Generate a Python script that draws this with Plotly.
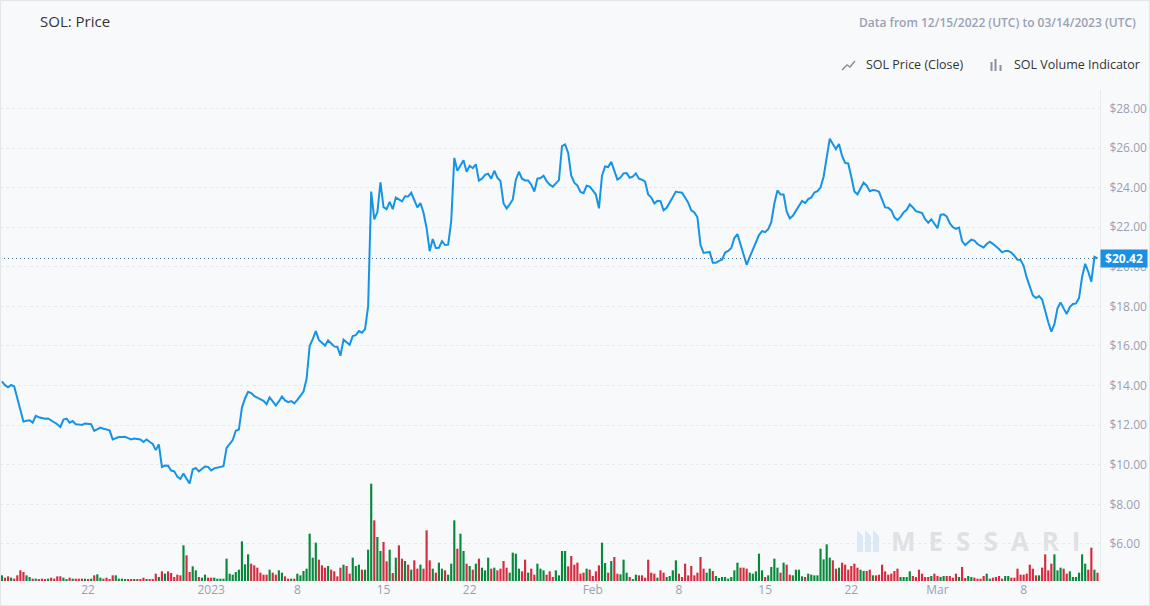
import pandas as pd
import plotly.graph_objects as go

# ---------------- data (6-hour candles, 12/15/2022 -> 03/14/2023 UTC) ----------------
start_time = "2022-12-15 00:00"
price_close = [
    14.21, 14.02, 13.91, 14.03, 13.96, 13.35, 12.65, 12.18, 12.22, 12.25,
    12.13, 12.47, 12.40, 12.35, 12.33, 12.34, 12.25, 12.18, 12.05, 11.91,
    12.28, 12.33, 12.13, 12.21, 12.05, 12.04, 12.01, 12.08, 12.05, 12.05,
    11.71, 11.80, 11.88, 11.82, 11.77, 11.74, 11.28, 11.35, 11.40, 11.40,
    11.41, 11.35, 11.28, 11.33, 11.31, 11.28, 11.15, 11.28, 11.16, 11.05,
    10.74, 11.03, 9.89, 9.96, 9.95, 9.71, 9.67, 9.40, 9.28, 9.56,
    9.30, 9.05, 9.76, 9.84, 9.67, 9.80, 9.91, 9.89, 9.71, 9.82,
    9.86, 9.90, 9.93, 10.85, 11.05, 11.25, 11.72, 11.78, 12.89, 13.35,
    13.69, 13.62, 13.47, 13.38, 13.31, 13.23, 13.06, 13.40, 13.20, 12.99,
    13.20, 13.45, 13.25, 13.16, 13.22, 13.10, 13.28, 13.48, 13.70, 14.33,
    16.00, 16.35, 16.75, 16.30, 16.15, 16.02, 16.28, 16.15, 15.98, 15.95,
    15.51, 16.32, 16.20, 16.06, 16.50, 16.55, 16.75, 16.67, 16.85, 18.00,
    23.80, 22.40, 22.75, 24.26, 23.01, 22.91, 23.28, 22.91, 23.50, 23.42,
    23.30, 23.56, 23.55, 23.74, 23.40, 23.00, 23.22, 22.73, 21.95, 20.79,
    21.40, 20.95, 20.96, 21.30, 21.10, 21.12, 22.30, 25.50, 24.85, 25.15,
    25.38, 24.80, 25.10, 24.98, 25.18, 24.35, 24.45, 24.64, 24.70, 24.45,
    24.85, 24.50, 24.33, 23.20, 22.95, 23.15, 23.40, 24.40, 24.80, 24.45,
    24.36, 24.36, 24.15, 23.80, 24.45, 24.48, 24.60, 24.33, 24.15, 24.05,
    24.20, 24.38, 26.10, 26.18, 25.75, 24.60, 24.25, 24.10, 23.78, 23.72,
    24.10, 24.05, 23.86, 23.65, 22.95, 24.60, 25.07, 25.04, 25.30, 24.80,
    24.40, 24.51, 24.72, 24.73, 24.50, 24.55, 24.72, 24.45, 24.40, 24.30,
    23.65, 23.50, 23.20, 23.33, 23.31, 22.85, 22.98, 23.25, 23.55, 23.80,
    23.76, 23.74, 23.50, 23.24, 22.85, 22.74, 22.50, 21.10, 20.70, 20.72,
    20.75, 20.20, 20.20, 20.30, 20.36, 20.72, 20.80, 20.95, 21.45, 21.65,
    21.15, 20.65, 20.10, 20.50, 20.88, 21.20, 21.60, 21.80, 21.75, 21.90,
    22.25, 23.20, 23.86, 23.65, 23.65, 22.80, 22.45, 22.58, 22.82, 23.12,
    23.33, 23.22, 23.42, 23.50, 23.75, 23.82, 24.00, 24.55, 25.60, 26.47,
    26.20, 25.95, 26.20, 25.60, 25.25, 25.22, 24.55, 23.80, 23.66, 23.95,
    24.25, 24.10, 23.82, 23.88, 23.86, 23.79, 23.35, 23.00, 22.98, 22.85,
    22.50, 22.36, 22.52, 22.75, 22.88, 23.15, 23.00, 22.81, 22.77, 22.72,
    22.40, 22.23, 22.40, 22.20, 21.95, 22.62, 22.65, 22.54, 22.20, 22.00,
    21.92, 21.98, 21.30, 21.10, 21.22, 21.37, 21.32, 21.15, 21.06, 20.98,
    21.15, 21.27, 21.16, 21.05, 20.90, 20.73, 20.80, 20.80, 20.72, 20.55,
    20.36, 20.35, 20.05, 19.45, 19.00, 18.55, 18.42, 18.52, 18.35, 17.70,
    17.20, 16.72, 17.10, 17.90, 18.20, 17.90, 17.62, 17.97, 18.12, 18.15,
    18.42, 19.50, 20.15, 19.75, 19.25, 20.50, 20.42,
]
# volume per 6h candle, million USD (estimated)
volume_musd = [
    85, 50, 70, 50, 35, 85, 160, 135, 85, 60,
    35, 35, 20, 35, 20, 35, 50, 35, 70, 70,
    50, 20, 50, 35, 35, 35, 35, 35, 20, 35,
    85, 100, 50, 35, 50, 20, 85, 85, 35, 35,
    20, 20, 20, 20, 20, 20, 50, 20, 20, 20,
    110, 60, 145, 110, 145, 120, 60, 95, 85, 535,
    385, 135, 220, 160, 60, 50, 95, 50, 50, 50,
    35, 35, 35, 335, 110, 95, 135, 170, 595, 250,
    400, 260, 235, 200, 125, 95, 95, 170, 125, 95,
    160, 125, 70, 35, 35, 35, 110, 85, 150, 185,
    710, 350, 575, 320, 235, 200, 225, 170, 145, 70,
    200, 245, 225, 110, 350, 225, 245, 170, 170, 470,
    1460, 910, 660, 450, 585, 295, 470, 120, 350, 535,
    335, 300, 245, 170, 310, 185, 245, 185, 760, 310,
    185, 125, 275, 185, 160, 95, 260, 910, 485, 710,
    450, 260, 225, 170, 260, 335, 200, 160, 350, 185,
    200, 160, 185, 300, 200, 125, 425, 410, 185, 145,
    320, 125, 185, 95, 260, 185, 160, 95, 145, 60,
    160, 85, 450, 450, 220, 375, 245, 275, 110, 125,
    185, 170, 75, 145, 235, 575, 270, 125, 300, 360,
    110, 100, 320, 125, 60, 25, 95, 85, 85, 50,
    320, 125, 110, 50, 160, 125, 60, 75, 160, 310,
    110, 60, 260, 85, 225, 85, 125, 360, 185, 125,
    185, 150, 75, 45, 60, 60, 35, 60, 160, 275,
    200, 200, 185, 125, 110, 145, 410, 160, 60, 85,
    210, 335, 200, 125, 275, 245, 95, 85, 170, 170,
    70, 60, 110, 95, 85, 85, 485, 325, 550, 350,
    310, 185, 200, 275, 245, 170, 225, 260, 200, 170,
    150, 150, 170, 85, 85, 95, 245, 145, 95, 110,
    150, 185, 60, 60, 60, 145, 75, 60, 170, 110,
    60, 60, 75, 110, 75, 60, 75, 75, 75, 50,
    110, 60, 210, 45, 75, 60, 50, 35, 35, 75,
    110, 35, 50, 60, 75, 35, 75, 75, 50, 50,
    185, 95, 95, 110, 245, 185, 85, 85, 200, 400,
    160, 260, 400, 160, 200, 185, 110, 145, 60, 60,
    125, 400, 260, 170, 500, 170, 125,
]
last_price = 20.42
tick_dates = ["2022-12-15", "2022-12-22", "2023-01-01", "2023-01-08", "2023-01-15",
              "2023-01-22", "2023-02-01", "2023-02-08", "2023-02-15", "2023-02-22",
              "2023-03-01", "2023-03-08"]
tick_labels = ["15", "22", "2023", "8", "15", "22", "Feb", "8", "15", "22", "Mar", "8"]

times = pd.date_range(start_time, periods=len(price_close), freq="6h")

GREEN = "#07893b"
RED = "#d62a3e"
bar_colors = [GREEN] + [GREEN if price_close[i] >= price_close[i - 1] else RED
                        for i in range(1, len(price_close))]

# ---------------- geometry helpers (pixel -> paper) ----------------
W, H = 1150, 606
ML, MR, MT, MB = 0, 50, 90, 25
PW, PH = W - ML - MR, H - MT - MB


def px(x):
    return (x - ML) / PW


def py(y):
    return (H - MB - y) / PH


fig = go.Figure()
fig.add_trace(go.Bar(
    x=times, y=volume_musd, marker=dict(color=bar_colors, line=dict(width=0)),
    yaxis="y2", name="SOL Volume Indicator", showlegend=False,
))
fig.add_trace(go.Scatter(
    x=times, y=price_close, mode="lines", line=dict(color="#1594e6", width=2),
    name="SOL Price (Close)", showlegend=False,
))

AX = "#9aa0b3"
fig.update_layout(
    width=W, height=H,
    margin=dict(l=ML, r=MR, t=MT, b=MB),
    paper_bgcolor="#f8f9fb", plot_bgcolor="#f8f9fb",
    font=dict(family="Open Sans, sans-serif", color="#333"),
    bargap=0.3,
    xaxis=dict(
        type="date",
        range=["2022-12-14 20:18", "2023-03-14 04:52"],
        tickvals=tick_dates, ticktext=tick_labels,
        showgrid=False, zeroline=False, showline=False,
        tickfont=dict(size=12, color=AX), ticks="",
    ),
    yaxis=dict(
        side="right", range=[4.13, 28.93], dtick=2, tick0=0,
        tickprefix="$", tickformat=".2f",
        tickfont=dict(size=12, color=AX),
        showgrid=True, gridcolor="#e6e8ee", griddash="3px,3px", gridwidth=1,
        zeroline=False, showline=True, linecolor="#e8eaee", linewidth=1,
        ticks="outside", ticklen=6, tickcolor="rgba(0,0,0,0)",
    ),
    yaxis2=dict(overlaying="y", range=[0, PH * 15], visible=False),
    showlegend=False,
)

shapes = []
# last price dotted line
shapes.append(dict(type="line", xref="paper", x0=0, x1=1, yref="y", y0=last_price, y1=last_price,
                   line=dict(color="#3b6f99", width=1, dash="1px,3px")))
# outer border of the widget
shapes.append(dict(type="rect", xref="paper", yref="paper", x0=px(0.5), x1=px(1149.5),
                   y0=py(605.5), y1=py(0.5), line=dict(color="#e3e5ea", width=1)))
# legend icon: line
shapes.append(dict(type="path", xref="paper", yref="paper",
                   path="M {:.5f},{:.5f} L {:.5f},{:.5f} L {:.5f},{:.5f} L {:.5f},{:.5f}".format(
                       px(842), py(70), px(847), py(65), px(850), py(67), px(855), py(61)),
                   line=dict(color="#8b91a3", width=1.5)))
# legend icon: bars
for x0, y_top in [(990.5, 62), (994.5, 59), (999.5, 65)]:
    shapes.append(dict(type="rect", xref="paper", yref="paper", x0=px(x0), x1=px(x0 + 2),
                       y0=py(71), y1=py(y_top), line=dict(width=0), fillcolor="#8b91a3"))
# watermark logo
for x0 in [857, 865, 873]:
    shapes.append(dict(type="path", xref="paper", yref="paper",
                       path="M {:.5f},{:.5f} L {:.5f},{:.5f} L {:.5f},{:.5f} L {:.5f},{:.5f} Z".format(
                           px(x0), py(552), px(x0), py(530), px(x0 + 6), py(536), px(x0 + 6), py(552)),
                       line=dict(width=0), fillcolor="#dbe8f5"))
fig.update_layout(shapes=shapes)

annotations = [
    dict(text="SOL: Price", x=px(38), y=py(21), xref="paper", yref="paper",
         xanchor="left", yanchor="middle", showarrow=False,
         font=dict(size=15, color="#333")),
    dict(text="Data from 12/15/2022 (UTC) to 03/14/2023 (UTC)", x=px(1138), y=py(22),
         xref="paper", yref="paper", xanchor="right", yanchor="middle", showarrow=False,
         font=dict(size=12, color="#9aa1b5", weight=600)),
    dict(text="SOL Price (Close)", x=px(864), y=py(65), xref="paper", yref="paper",
         xanchor="left", yanchor="middle", showarrow=False, font=dict(size=12.5, color="#333")),
    dict(text="SOL Volume Indicator", x=px(1012), y=py(65), xref="paper", yref="paper",
         xanchor="left", yanchor="middle", showarrow=False, font=dict(size=12.5, color="#333")),
    dict(text="<b>M\u2002E\u2002S\u2002S\u2002A\u2002R\u2002I</b>", x=px(889), y=py(541),
         xref="paper", yref="paper", xanchor="left", yanchor="middle", showarrow=False,
         font=dict(size=26, color="#dfe1e5")),
    dict(text="<b>$20.42</b>", x=1, y=last_price, xref="paper", yref="y",
         xanchor="left", yanchor="middle", showarrow=False,
         bgcolor="#1a8fe3", width=44, height=15, borderpad=1,
         font=dict(size=12, color="white")),
]
fig.update_layout(annotations=annotations)

fig.write_html("out.html")
